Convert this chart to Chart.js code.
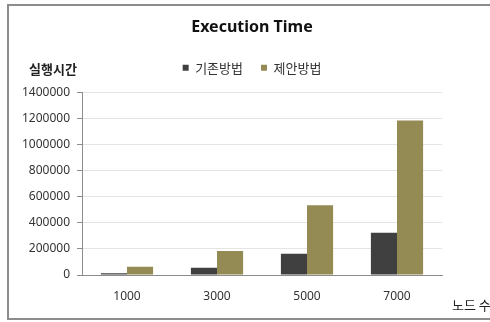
<!DOCTYPE html>
<html>
<head>
<meta charset="utf-8">
<script src="https://cdn.jsdelivr.net/npm/chart.js@4"></script>
<style>
  html, body { margin: 0; padding: 0; background: #fff; }
  #wrap { position: relative; width: 490px; height: 322px; overflow: hidden; }
  #frame {
    position: absolute; left: 7px; top: 4px; width: 500px; height: 312px;
    border-left: 2px solid #8c8c8c; border-top: 2px solid #8c8c8c; border-bottom: 2px solid #8c8c8c;
    pointer-events: none;
  }
  canvas { position: absolute; left: 0; top: 0; }
</style>
</head>
<body>
<div id="wrap">
  <canvas id="chart" width="490" height="322"></canvas>
  <div id="frame"></div>
</div>
<script>
const nodeCounts = ['1000', '3000', '5000', '7000'];
const existingMethod = [13000, 56000, 164000, 325000];
const proposedMethod = [64000, 185000, 536000, 1187000];
const yTicks = [0, 200000, 400000, 600000, 800000, 1000000, 1200000, 1400000];

const KO = '"Noto Sans CJK KR", "Noto Sans", sans-serif';

// axis captions sit outside the plot: y caption above the axis, x caption at bottom right
const captions = {
  id: 'captions',
  afterDraw(chart) {
    const { ctx, chartArea } = chart;
    ctx.save();
    ctx.fillStyle = '#222';
    ctx.textBaseline = 'middle';
    ctx.font = `600 13px ${KO}`;
    ctx.textAlign = 'left';
    ctx.fillText('실행시간', 29, 69);
    ctx.font = `13px ${KO}`;
    ctx.fillText('노드 수', chartArea.right + 10, 305);
    ctx.restore();
  }
};

// empty axes that only reserve space around the plot
const spacer = (position, size) => ({
  position,
  display: true,
  grid: { display: false, drawTicks: false },
  border: { display: false },
  ticks: { display: false },
  afterFit: (s) => {
    if (s.isHorizontal()) s.height = size; else s.width = size;
  },
});

new Chart(document.getElementById('chart'), {
  type: 'bar',
  data: {
    labels: nodeCounts,
    datasets: [{
      label: '기존방법',
      data: existingMethod,
      backgroundColor: '#404040',
      categoryPercentage: 0.58,
      barPercentage: 1.0,
    }, {
      label: '제안방법',
      data: proposedMethod,
      backgroundColor: '#948a54',
      categoryPercentage: 0.58,
      barPercentage: 1.0,
    }],
  },
  options: {
    responsive: false,
    animation: false,
    layout: { padding: { left: 14, right: 0, top: 0, bottom: 0 } },
    plugins: {
      title: {
        display: true,
        text: 'Execution Time',
        color: '#111',
        font: { family: '"Noto Sans", sans-serif', size: 16, weight: 'bold', lineHeight: 1.2 },
        padding: { top: 18, bottom: 6 },
      },
      legend: {
        position: 'top',
        labels: {
          boxWidth: 6,
          boxHeight: 6,
          padding: 18,
          color: '#333',
          font: { family: KO, size: 13 },
        },
      },
      tooltip: { enabled: false },
    },
    scales: {
      x: {
        grid: { display: false, drawTicks: false },
        border: { color: '#8c8c8c', width: 1 },
        ticks: { color: '#333', padding: 14, font: { family: '"Noto Sans", sans-serif', size: 12 } },
        afterFit: (s) => { s.height = 47; },
      },
      xTop: Object.assign({ type: 'category' }, spacer('top', 8.5)),
      y: {
        min: 0,
        max: 1400000,
        afterBuildTicks: (s) => { s.ticks = yTicks.map((v) => ({ value: v })); },
        grid: { color: '#e4e4e4', tickColor: '#8c8c8c', tickLength: 5 },
        border: { color: '#8c8c8c', width: 1 },
        ticks: {
          color: '#333',
          padding: 7,
          font: { family: '"Noto Sans", sans-serif', size: 12 },
          callback: (v) => String(v),
        },
        afterFit: (s) => { s.width = 68; },
      },
      yRight: spacer('right', 48),
    },
  },
  plugins: [captions],
});
</script>
</body>
</html>
